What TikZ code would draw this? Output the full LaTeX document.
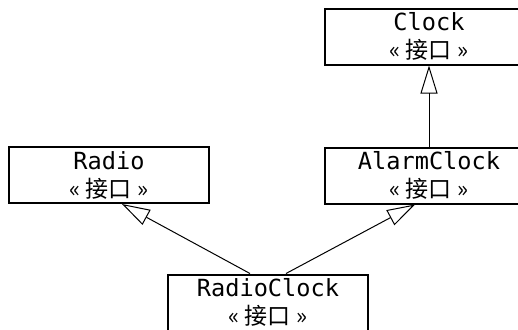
\documentclass[tikz,border=0pt]{standalone}
\usepackage{fontspec}
\setmonofont{DejaVu Sans Mono}
\newfontfamily\cjk{Noto Sans CJK SC}
\usepackage{tikz}
\usetikzlibrary{arrows.meta}

\tikzset{
    iface/.style={draw, line width=1pt, minimum width=100pt, minimum height=28pt,
        inner sep=0pt, align=center, font=\fontsize{11.8}{14}\selectfont},
    wide/.style={minimum width=104pt},
    impl/.style={line width=0.5pt, -{Triangle[open, length=14pt, width=8.5pt]}}
}
\newcommand{\iname}[1]{{\ttfamily #1}\\{\cjk\fontsize{11.5}{14}\selectfont « 接口 »}}

\begin{document}
\begin{tikzpicture}[x=0.5pt, y=-0.5pt]
    \useasboundingbox (0,0) rectangle (518,329);
    % interfaces
    \node[iface, wide] (clock) at (429,36.5) {\iname{Clock}};
    \node[iface, wide] (alarm) at (429,175.5) {\iname{AlarmClock}};
    \node[iface] (radio) at (109,175) {\iname{Radio}};
    \node[iface] (radioclock) at (268,302.5) {\iname{RadioClock}};
    % generalisations
    \draw[impl] (alarm) -- (clock);
    \draw[impl] ([xshift=-9pt]radioclock.north) -- ([xshift=6.5pt]radio.south);
    \draw[impl] ([xshift=9pt]radioclock.north) -- ([xshift=-7pt]alarm.south);
\end{tikzpicture}
\end{document}
